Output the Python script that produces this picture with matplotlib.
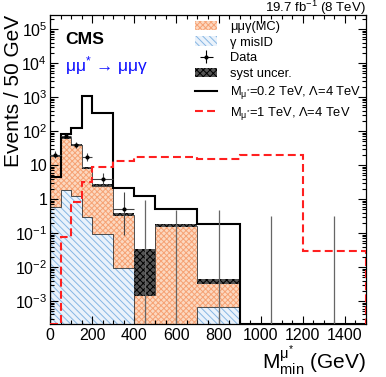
import numpy as np
import matplotlib
matplotlib.use("Agg")
import matplotlib.pyplot as plt
from matplotlib.patches import Patch
from matplotlib.lines import Line2D
from matplotlib.ticker import FixedLocator, MultipleLocator, LogLocator, NullFormatter

plt.rcParams['font.family'] = ['Liberation Sans', 'DejaVu Sans']
plt.rcParams['mathtext.fontset'] = 'custom'
plt.rcParams['mathtext.rm'] = 'Liberation Sans'
plt.rcParams['mathtext.it'] = 'Liberation Sans:italic'
plt.rcParams['mathtext.bf'] = 'Liberation Sans:bold'
plt.rcParams['hatch.linewidth'] = 0.7

# bins (GeV) and per-50-GeV contents
edges = np.array([0, 50, 100, 150, 200, 300, 400, 500, 700, 900, 1200, 1500])
misid = np.array([0.6, 1.84, 1.2, 0.3, 0.095, 0.0095, 0, 0, 0.00066, 0, 0])
mumug = np.array([17.9, 64.2, 37.8, 7.9, 2.4, 0.34, 0.0015, 0.165, 0.0027, 0, 0])
syst_lo = np.array([17, 60, 36, 7.6, 2.36, 0.32, 0.0014, 0.15, 0.0032, 0, 0])
syst_hi = np.array([20, 70, 43, 8.9, 2.76, 0.38, 0.034, 0.19, 0.0045, 0, 0])
sig_02 = np.array([4.4, 80, 125, 1100, 345, 2.15, 1.25, 0.51, 0.19, 0, 0])
sig_1 = np.array([0, 0.075, 0.83, 3.1, 8.9, 13.3, 17.6, 17, 15, 19.5, 0.03])
data = np.array([20, 71, 39, 17, 4.0, 0.5, 0, 0, 0, 0, 0])
data_lo = np.array([4.4, 8.4, 6.2, 4.1, 1.4, 0.41, 0, 0, 0, 0, 0])
data_hi = np.array([5.5, 9.5, 7.3, 5.2, 1.9, 1.16, 0.92, 0.46, 0.46, 0.31, 0.31])

YMIN, YMAX = 2.1e-4, 2.6e5

def floored(v):
    return np.where(v > 0, v, YMIN)

centers = 0.5 * (edges[1:] + edges[:-1])
halfw = 0.5 * np.diff(edges)
stack = misid + mumug

ORANGE_FC, ORANGE_HC = '#fcd8c0', '#f6a274'
BLUE_FC, BLUE_HC = '#eaf2fb', '#86b6e3'

fig = plt.figure(figsize=(3.86, 3.77), dpi=100)
ax = fig.add_axes([50/386, 1-324/377, 316/386, 309/377])
ax.set_yscale('log')

# background stack
ax.stairs(floored(misid), edges, baseline=YMIN, fill=True, facecolor=BLUE_FC,
          edgecolor=BLUE_HC, hatch='\\\\\\\\\\', lw=0, zorder=1)
ax.stairs(floored(stack), edges, baseline=floored(misid), fill=True, facecolor=ORANGE_FC,
          edgecolor=ORANGE_HC, hatch='xxxxxx', lw=0, zorder=1)
ax.stairs(floored(misid), edges, baseline=YMIN, color='#333333', lw=0.6, zorder=2)
ax.stairs(floored(stack), edges, baseline=YMIN, color='#333333', lw=0.6, zorder=2)

# syst band
ax.stairs(floored(syst_hi), edges, baseline=floored(syst_lo), fill=True, facecolor='#555555',
          edgecolor='black', hatch='xxxxx', lw=0, zorder=3)

# signals
ax.stairs(floored(sig_02), edges, baseline=YMIN, color='black', lw=1.5, zorder=4)
ax.stairs(floored(sig_1), edges, baseline=YMIN, color='#ff2020', lw=1.5,
          linestyle=(0, (3.8, 2)), zorder=4)

# data
nz = data > 0
ax.errorbar(centers[nz], data[nz], xerr=halfw[nz], yerr=[data_lo[nz], data_hi[nz]],
            fmt='o', color='black', ecolor='#444444', ms=2.0, elinewidth=0.8, capsize=0, zorder=5)
ax.vlines(centers[~nz], YMIN, data_hi[~nz], color='#666666', lw=0.9, zorder=5)

ax.set_xlim(0, 1500)
ax.set_ylim(YMIN, YMAX)

ax.xaxis.set_major_locator(MultipleLocator(200))
ax.xaxis.set_minor_locator(MultipleLocator(50))
ax.yaxis.set_minor_locator(LogLocator(base=10, subs=np.arange(2, 10), numticks=20))
ax.yaxis.set_minor_formatter(NullFormatter())

ytick_vals = [1e-3, 1e-2, 1e-1, 1, 10, 1e2, 1e3, 1e4, 1e5]
ytick_labels = [r'$\mathregular{10^{-3}}$', r'$\mathregular{10^{-2}}$', r'$\mathregular{10^{-1}}$',
                '1', '10', r'$\mathregular{10^{2}}$', r'$\mathregular{10^{3}}$',
                r'$\mathregular{10^{4}}$', r'$\mathregular{10^{5}}$']
ax.yaxis.set_major_locator(FixedLocator(ytick_vals))
ax.set_yticklabels(ytick_labels)

ax.tick_params(which='both', direction='in', top=True, right=True, labelsize=11.5)
ax.tick_params(which='major', length=5.8, width=0.8)
ax.tick_params(which='minor', length=2.9, width=0.8)
ax.tick_params(axis='x', pad=3)
ax.tick_params(axis='y', pad=2)
for s in ax.spines.values():
    s.set_linewidth(0.9)

ax.set_ylabel('Events / 50 GeV', fontsize=15, loc='top')
ax.yaxis.set_label_coords(-0.085, 1.0)
ax.set_xlabel(r'$\mathregular{M^{μ^{*}}_{min}}$ (GeV)', fontsize=15, loc='right', labelpad=0)

ax.text(0.047, 0.945, 'CMS', transform=ax.transAxes, fontsize=12.6, fontweight='bold', va='top')
ax.text(0.047, 0.875, r'μμ$\mathregular{^{*}}$ → μμγ', transform=ax.transAxes, fontsize=12.5,
        color='#1010ff', va='top')
fig.text(366/386, 1-12/377, r'19.7 fb$\mathregular{^{-1}}$ (8 TeV)', ha='right', va='baseline',
         fontsize=9.5)

handles = [
    Patch(facecolor=ORANGE_FC, edgecolor=ORANGE_HC, hatch='xxxxxx', lw=0),
    Patch(facecolor=BLUE_FC, edgecolor=BLUE_HC, hatch='\\\\\\\\\\', lw=0),
    ax.errorbar([], [], xerr=[], yerr=[], fmt='o', color='black', ms=2.0, elinewidth=0.8),
    Patch(facecolor='#555555', edgecolor='black', hatch='xxxxx', lw=0),
    Line2D([], [], color='black', lw=1.5),
    Line2D([], [], color='#ff2020', lw=1.5, linestyle=(0, (3.8, 2))),
]
labels = ['μμγ(MC)', 'γ misID', 'Data', 'syst uncer.',
          r'M$_{\mathregular{μ^{*}}}$=0.2 TeV, Λ=4 TeV', r'M$_{\mathregular{μ^{*}}}$=1 TeV, Λ=4 TeV']
ax.legend(handles, labels, loc='upper left', bbox_to_anchor=(0.46, 0.982), frameon=False,
          fontsize=9.3, handlelength=1.7, handleheight=0.7, handletextpad=1.0,
          labelspacing=0.3, borderaxespad=0, borderpad=0)

fig.savefig('out.png', dpi=100)
